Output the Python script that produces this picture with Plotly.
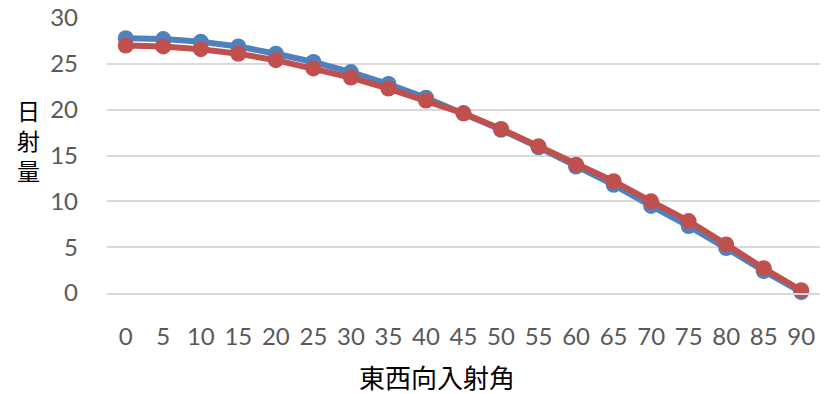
import plotly.graph_objects as go

# Incidence angle categories (degrees, east-west direction)
angles = ["0", "5", "10", "15", "20", "25", "30", "35", "40", "45",
          "50", "55", "60", "65", "70", "75", "80", "85", "90"]

# Daily solar radiation for the two series
series_blue = [27.8, 27.7, 27.4, 26.9, 26.1, 25.2, 24.1, 22.8, 21.3, 19.6,
               17.8, 15.9, 13.8, 11.8, 9.5, 7.3, 4.9, 2.4, 0.1]
series_red = [27.0, 26.9, 26.6, 26.1, 25.4, 24.5, 23.5, 22.3, 21.0, 19.6,
              17.9, 16.0, 14.0, 12.2, 10.0, 7.85, 5.3, 2.7, 0.3]

y_ticks = [0, 5, 10, 15, 20, 25, 30]

W, H = 831, 394
L, R, T, B = 107, 11, 18, 101
plot_w, plot_h = W - L - R, H - T - B


def px_x(x):
    return (x - L) / plot_w


def px_y(y):
    return (H - B - y) / plot_h


fig = go.Figure()
fig.add_trace(go.Scatter(
    x=angles, y=series_blue, mode="lines+markers",
    line=dict(color="#4F81BD", width=6),
    marker=dict(color="#4F81BD", size=16),
    cliponaxis=False, showlegend=False,
))
fig.add_trace(go.Scatter(
    x=angles, y=series_red, mode="lines+markers",
    line=dict(color="#C0504D", width=6),
    marker=dict(color="#C0504D", size=16),
    cliponaxis=False, showlegend=False,
))

annotations = [
    dict(text="東西向入射角", x=px_x(437), y=px_y(376), xref="paper", yref="paper",
         xanchor="center", yanchor="middle", showarrow=False,
         font=dict(family="Noto Sans CJK JP", size=26, color="#000000")),
    # Vertical axis title, one character per row
    dict(text="日<br>射<br>量", x=px_x(28), y=px_y(140), xref="paper", yref="paper",
         xanchor="center", yanchor="middle", showarrow=False,
         font=dict(family="Noto Sans CJK JP", size=23, color="#000000")),
]

fig.update_layout(
    width=W, height=H,
    margin=dict(l=L, r=R, t=T, b=B, autoexpand=False),
    paper_bgcolor="white", plot_bgcolor="white",
    font=dict(family="Lato, Open Sans, sans-serif", size=24, color="#595959"),
    xaxis=dict(
        type="category", range=[-0.5, len(angles) - 0.5],
        showgrid=False, zeroline=False, automargin=False,
        showline=True, linecolor="#D9D9D9", linewidth=1.5,
        ticks="", ticklabelstandoff=21,
        tickfont=dict(size=24, color="#595959"),
    ),
    yaxis=dict(
        range=[0, 30], tickvals=y_ticks, showgrid=True, automargin=False,
        gridcolor="#D9D9D9", gridwidth=1.5, zeroline=False,
        showline=False, ticks="", ticklabelstandoff=28,
        tickfont=dict(size=24, color="#595959"),
    ),
    annotations=annotations,
)

fig.write_html("out.html")
